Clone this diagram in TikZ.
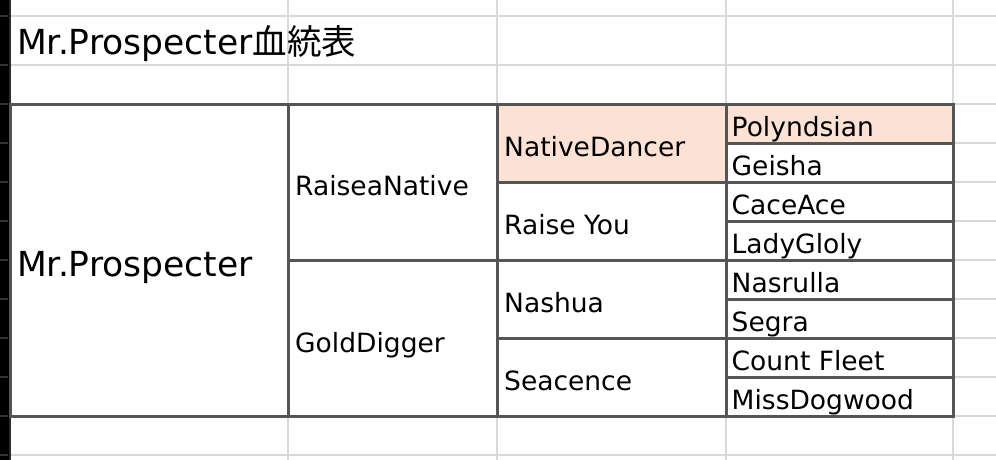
\documentclass[tikz,border=0pt]{standalone}
\usepackage{fontspec}
\setmainfont{DejaVu Sans}
\newfontfamily\jpfont{Noto Sans CJK JP}
\definecolor{gridgray}{HTML}{D9D9D9}
\definecolor{rulegray}{HTML}{555555}
\definecolor{peach}{HTML}{FBE2D5}

\begin{document}
\begin{tikzpicture}[x=1pt, y=-1pt,
	grid/.style={gridgray, line width=2pt},
	rule/.style={rulegray, line width=3pt},
	cell/.style={anchor=base west, inner sep=0pt, font=\fontsize{26.5}{30}\selectfont},
	big/.style={anchor=base west, inner sep=0pt, font=\fontsize{34.5}{40}\selectfont}]
	\useasboundingbox (0,0) rectangle (996,460);
	\fill[white] (0,0) rectangle (996,460);
	% sheet grid
	\foreach \y in {16,65,104,143,182,221,260,299,338,377,416,455}
		\draw[grid] (10,\y) -- (996,\y);
	\foreach \x in {288,497,726,953}
		\draw[grid] (\x,0) -- (\x,460);
	% row headers
	\fill[black] (0,0) rectangle (11,460);
	\draw[rulegray!50!black, line width=2pt] (9.5,0) -- (9.5,460);
	\foreach \y in {16,65,104,143,182,221,260,299,338,377,416,455}
		\draw[rulegray!60!black, line width=1.5pt] (0,\y) -- (8,\y);
	% table cells
	\fill[white] (10,104) rectangle (953,416);
	\fill[peach] (497,104) rectangle (726,182);
	\fill[peach] (726,104) rectangle (953,143);
	% table rules
	\draw[rule] (10,104) rectangle (953,416);
	\draw[rule] (288,104) -- (288,416);
	\draw[rule] (497,104) -- (497,416);
	\draw[rule] (726,104) -- (726,416);
	\draw[rule] (288,260) -- (953,260);
	\draw[rule] (497,182) -- (953,182);
	\draw[rule] (497,338) -- (953,338);
	\draw[rule] (726,143) -- (953,143);
	\draw[rule] (726,221) -- (953,221);
	\draw[rule] (726,299) -- (953,299);
	\draw[rule] (726,377) -- (953,377);
	% texts
	\node[big] (title) at (17,55) {Mr.Prospecter{\jpfont 血統表}};
	\node[big] (MP) at (17,276) {Mr.Prospecter};
	\node[cell] (RN) at (295,195) {RaiseaNative};
	\node[cell] (GD) at (295,352) {GoldDigger};
	\node[cell] (ND) at (504,156) {NativeDancer};
	\node[cell] (RY) at (504,234) {Raise You};
	\node[cell] (NA) at (504,312) {Nashua};
	\node[cell] (SE) at (504,390) {Seacence};
	\node[cell] (PO) at (731.5,136.5) {Polyndsian};
	\node[cell] (GE) at (731.5,175.5) {Geisha};
	\node[cell] (CA) at (731.5,214.5) {CaceAce};
	\node[cell] (LG) at (731.5,253.5) {LadyGloly};
	\node[cell] (NS) at (731.5,292.5) {Nasrulla};
	\node[cell] (SG) at (731.5,331.5) {Segra};
	\node[cell] (CF) at (731.5,370.5) {Count Fleet};
	\node[cell] (MD) at (731.5,409.5) {MissDogwood};
\end{tikzpicture}
\end{document}
